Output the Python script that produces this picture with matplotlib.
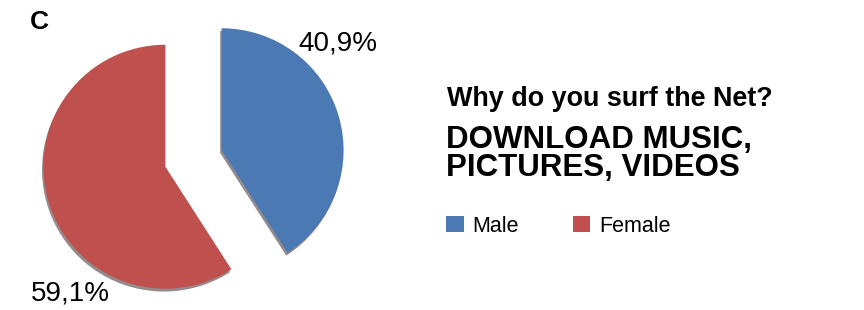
import matplotlib.pyplot as plt
import matplotlib.patheffects as pe

labels = ['Male', 'Female']
shares = [40.9, 59.1]
pct_text = ['40,9%', '59,1%']
colors = ['#4a79b3', '#bf504e']

plt.rcParams['font.family'] = ['Liberation Sans', 'DejaVu Sans']

fig = plt.figure(figsize=(8.64, 3.10), dpi=100)
# axes in pixel units, y measured up from the bottom
ax = fig.add_axes([0, 0, 1, 1])

R = 122
wedges, _ = ax.pie(shares, colors=colors, startangle=90, counterclock=False,
                   explode=[0.24 * R, 0.24 * R], radius=R, center=(193.5, 151.5),
                   wedgeprops=dict(linewidth=0))
for w in wedges:
    w.set_path_effects([pe.SimplePatchShadow(offset=(-1, -2), shadow_rgbFace='#2a1a1a', alpha=0.5),
                        pe.Normal()])

ax.set_xlim(0, 864)
ax.set_ylim(0, 310)
ax.set_aspect('equal')
ax.axis('off')

ax.text(338, 310 - 43, pct_text[0], fontsize=20, ha='center', va='center')
ax.text(70, 310 - 294, pct_text[1], fontsize=20, ha='center', va='center')
ax.text(39, 310 - 22, 'C', fontsize=19, fontweight='bold', ha='center', va='center')

ax.text(447, 310 - 99, 'Why do you surf the Net?', fontsize=19.4, fontweight='bold',
        ha='left', va='center')
ax.text(446, 310 - 154, 'DOWNLOAD MUSIC,\nPICTURES, VIDEOS', fontsize=22.5, fontweight='bold',
        ha='left', va='center', linespacing=0.95)

leg = ax.legend(wedges, labels, loc='center left', bbox_to_anchor=(446 / 864, 1 - 226 / 310),
                ncol=2, frameon=False, fontsize=15.5, handlelength=0.82, handleheight=0.82,
                handletextpad=0.4, columnspacing=2.5, borderaxespad=0, borderpad=0)
for h in leg.legend_handles:
    h.set_path_effects([])

fig.savefig('out.png', dpi=100)
